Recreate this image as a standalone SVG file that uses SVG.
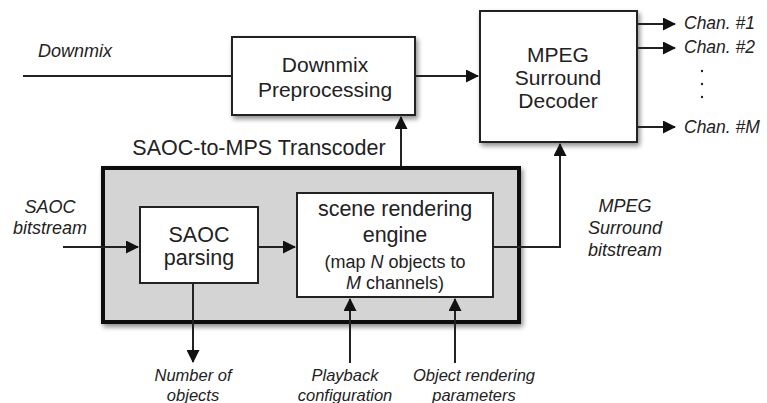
<svg xmlns="http://www.w3.org/2000/svg" width="767" height="403" viewBox="0 0 767 403">
<defs>
<marker id="ah" viewBox="0 0 13 13" refX="12" refY="6.5" markerWidth="13" markerHeight="13" markerUnits="userSpaceOnUse" orient="auto">
<path d="M0,0 L13,6.5 L0,13 Z" fill="#111"/>
</marker>
<filter id="sh" x="-10%" y="-10%" width="130%" height="130%">
<feGaussianBlur in="SourceAlpha" stdDeviation="2.5"/>
<feOffset dx="2" dy="3" result="b"/>
<feComponentTransfer><feFuncA type="linear" slope="0.45"/></feComponentTransfer>
<feMerge><feMergeNode/><feMergeNode in="SourceGraphic"/></feMerge>
</filter>
</defs>
<style>
.box{fill:#fff;stroke:#222;stroke-width:2}
.t{font-family:"Liberation Sans",Arial,sans-serif;fill:#222;text-anchor:middle}
.big{font-size:21px}
.it{font-family:"Liberation Sans",Arial,sans-serif;font-style:italic;fill:#222;font-size:18px;text-anchor:middle}
.bl{font-size:16.5px}
.ch{font-size:17.5px;text-anchor:start}
.c{fill:none;stroke:#222;stroke-width:2}
</style>
<rect width="767" height="403" fill="#fff"/>

<g id="transcoder">
<rect x="103" y="168" width="416" height="154" fill="#d4d4d4" stroke="#111" stroke-width="4" filter="url(#sh)"/>
<text class="t" x="259" y="155" font-size="21.5">SAOC-to-MPS Transcoder</text>
</g>

<g id="downmix-pre">
<rect class="box" x="232" y="37" width="183" height="78" filter="url(#sh)"/>
<text class="t big" x="325" y="72">Downmix</text>
<text class="t big" x="325" y="97">Preprocessing</text>
</g>

<g id="mps-decoder">
<rect class="box" x="480" y="11" width="157" height="131" filter="url(#sh)"/>
<text class="t big" x="558" y="62">MPEG</text>
<text class="t big" x="558" y="85">Surround</text>
<text class="t big" x="558" y="108">Decoder</text>
</g>

<g id="saoc-parsing">
<rect class="box" x="140" y="207" width="118" height="76"/>
<text class="t" x="199" y="242" font-size="21.5">SAOC</text>
<text class="t" x="199" y="265" font-size="21.5">parsing</text>
</g>

<g id="scene-engine">
<rect class="box" x="297" y="193" width="196" height="104"/>
<text class="t" x="395" y="216" font-size="21.5">scene rendering</text>
<text class="t" x="395" y="242" font-size="21.5">engine</text>
<text class="t" x="395" y="268" font-size="18">(map <tspan font-style="italic">N</tspan> objects to</text>
<text class="t" x="395" y="289" font-size="18"><tspan font-style="italic">M</tspan> channels)</text>
</g>

<g id="labels">
<text class="it" x="75" y="57">Downmix</text>
<text class="it" x="50" y="213">SAOC</text>
<text class="it" x="50" y="234">bitstream</text>
<text class="it" x="625" y="212">MPEG</text>
<text class="it" x="625" y="234">Surround</text>
<text class="it" x="625" y="256">bitstream</text>
<text class="it bl" x="193" y="381">Number of</text>
<text class="it bl" x="193" y="401">objects</text>
<text class="it bl" x="345" y="381">Playback</text>
<text class="it bl" x="345" y="401">configuration</text>
<text class="it bl" x="474" y="381">Object rendering</text>
<text class="it bl" x="474" y="401">parameters</text>
<text class="it ch" x="684" y="29">Chan. #1</text>
<text class="it ch" x="684" y="53">Chan. #2</text>
<text class="it ch" x="684" y="133">Chan. #M</text>
<circle cx="702" cy="71" r="1.2" fill="#222"/>
<circle cx="702" cy="84" r="1.2" fill="#222"/>
<circle cx="702" cy="97" r="1.2" fill="#222"/>
</g>

<g id="connectors">
<path class="c" d="M23,76 H232"/>
<path class="c" d="M415,76 H478" marker-end="url(#ah)"/>
<path class="c" d="M401,166 V117" marker-end="url(#ah)"/>
<path class="c" d="M637,24 H675" marker-end="url(#ah)"/>
<path class="c" d="M637,48 H675" marker-end="url(#ah)"/>
<path class="c" d="M637,127 H675" marker-end="url(#ah)"/>
<path class="c" d="M63,247 H138" marker-end="url(#ah)"/>
<path class="c" d="M258,247 H295" marker-end="url(#ah)"/>
<path class="c" d="M493,247 H560 V144" marker-end="url(#ah)"/>
<path class="c" d="M193,283 V362" marker-end="url(#ah)"/>
<path class="c" d="M350,363 V299" marker-end="url(#ah)"/>
<path class="c" d="M455,363 V299" marker-end="url(#ah)"/>
</g>
</svg>
